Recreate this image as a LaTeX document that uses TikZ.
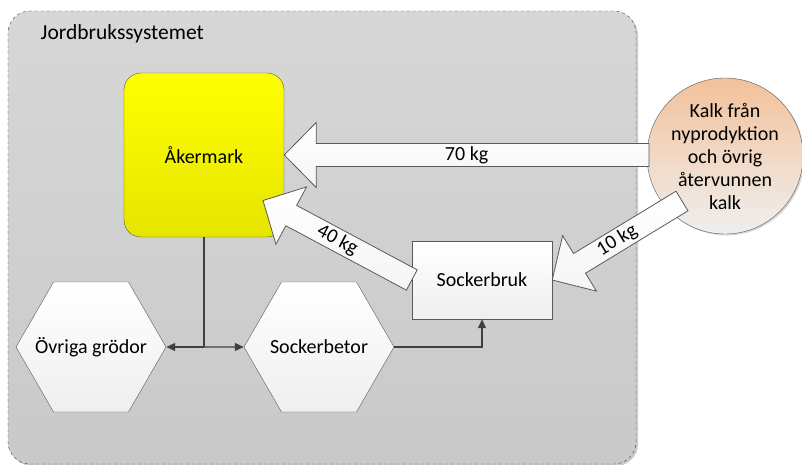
\documentclass[tikz,border=0pt]{standalone}
\usepackage{fontspec}
\setmainfont{Carlito}
\usetikzlibrary{calc,shapes.geometric,arrows.meta,shadows}

\definecolor{edge}{HTML}{595959}
\definecolor{wire}{HTML}{404040}
\definecolor{boxtop}{HTML}{D7D7D7}
\definecolor{boxbot}{HTML}{C9C9C9}
\definecolor{peach}{HTML}{F3C19A}
\definecolor{pale}{HTML}{EFEFEF}

\tikzset{
  lbl/.style={font=\fontsize{20}{23}\selectfont, text=black},
  system/.style={draw=wire, dashed, rounded corners=22pt, top color=boxtop, bottom color=boxbot,
    drop shadow={shadow xshift=2pt, shadow yshift=-2pt, fill=gray!70, opacity=.6}},
  field/.style={lbl, draw=edge, rounded corners=17pt, top color=yellow, bottom color={rgb,255:red,229;green,229;blue,0},
    minimum width=160pt, minimum height=164pt, inner sep=0pt},
  crop/.style={lbl, draw=edge, regular polygon, regular polygon sides=6, minimum size=150pt,
    inner sep=0pt, top color=white, bottom color=pale},
  plant/.style={lbl, draw=edge, top color=white, bottom color=pale,
    minimum width=140pt, minimum height=78pt, inner sep=0pt},
  source/.style={lbl, draw=edge, circle, minimum size=156pt, inner sep=0pt, align=center,
    top color=peach, bottom color=pale,
    drop shadow={shadow xshift=1.5pt, shadow yshift=-1.5pt, fill=gray!60, opacity=.5}},
  wireline/.style={draw=wire, line width=1.3pt},
  tip/.style={-{Triangle[length=9pt,width=8pt]}},
  flow/.style={draw=edge, line width=0.8pt, top color=white, bottom color={gray!8}},
}

% broad flow arrow named #1 from tail point #2 to tip point #3, labelled #4
\newcommand\flowarrow[4]{%
  \coordinate (#1tail) at (#2);
  \coordinate (#1tip) at (#3);
  \coordinate (#1head) at ($(#1tip)!32pt!(#1tail)$);
  \path[flow] ($(#1tail)!11.5pt!90:(#1tip)$) -- ($(#1head)!11.5pt!90:(#1tip)$)
    -- ($(#1head)!32.5pt!90:(#1tip)$) -- (#1tip)
    -- ($(#1head)!32.5pt!-90:(#1tip)$) -- ($(#1head)!11.5pt!-90:(#1tip)$)
    -- ($(#1tail)!11.5pt!-90:(#1tip)$) -- cycle;
  \path (#1tail) -- (#1tip) node[lbl, midway, sloped, inner sep=0pt] (#1lbl) {#4};
}

\begin{document}
\begin{tikzpicture}[x=1pt, y=-1pt]
  \useasboundingbox (0,0) rectangle (802,465);

  % the farming system
  \path[system] (8,11) rectangle (636,464);
  \node[lbl, font=\fontsize{21.5}{24}\selectfont, anchor=base west, inner sep=0pt] (title)
    at (40.5,39.5) {Jordbrukssystemet};

  % parts of the system
  \node[field] (ak) at (204,155) {Åkermark};
  \node[crop] (ov) at (91,347) {\makebox[0pt]{Övriga grödor}};
  \node[crop] (sbt) at (319,347) {\makebox[0pt]{Sockerbetor}};
  \node[plant] (sbr) at (482,280) {Sockerbruk};

  % links between crops and factory
  \coordinate (split) at (ak.south |- ov.east);
  \draw[wireline] (ak.south) -- (split);
  \draw[wireline, tip] (split) -- (ov.east);
  \draw[wireline, tip] (split) -- (sbt.west);
  \draw[wireline, tip] (sbt.east) -| (sbr.south);

  % outside source of lime
  \node[source] (kalk) at (725,156) {Kalk från\\nyprodyktion\\och övrig\\återvunnen\\kalk};

  % lime flows
  \coordinate (t70) at (649,155);
  \coordinate (t10) at (682,201);
  \coordinate (a40) at (263,200.5);
  \flowarrow{f70}{t70}{ak.east}{70 kg}
  \flowarrow{f40}{sbr.west}{a40}{40 kg}
  \flowarrow{f10}{t10}{sbr.east}{10 kg}
\end{tikzpicture}
\end{document}
